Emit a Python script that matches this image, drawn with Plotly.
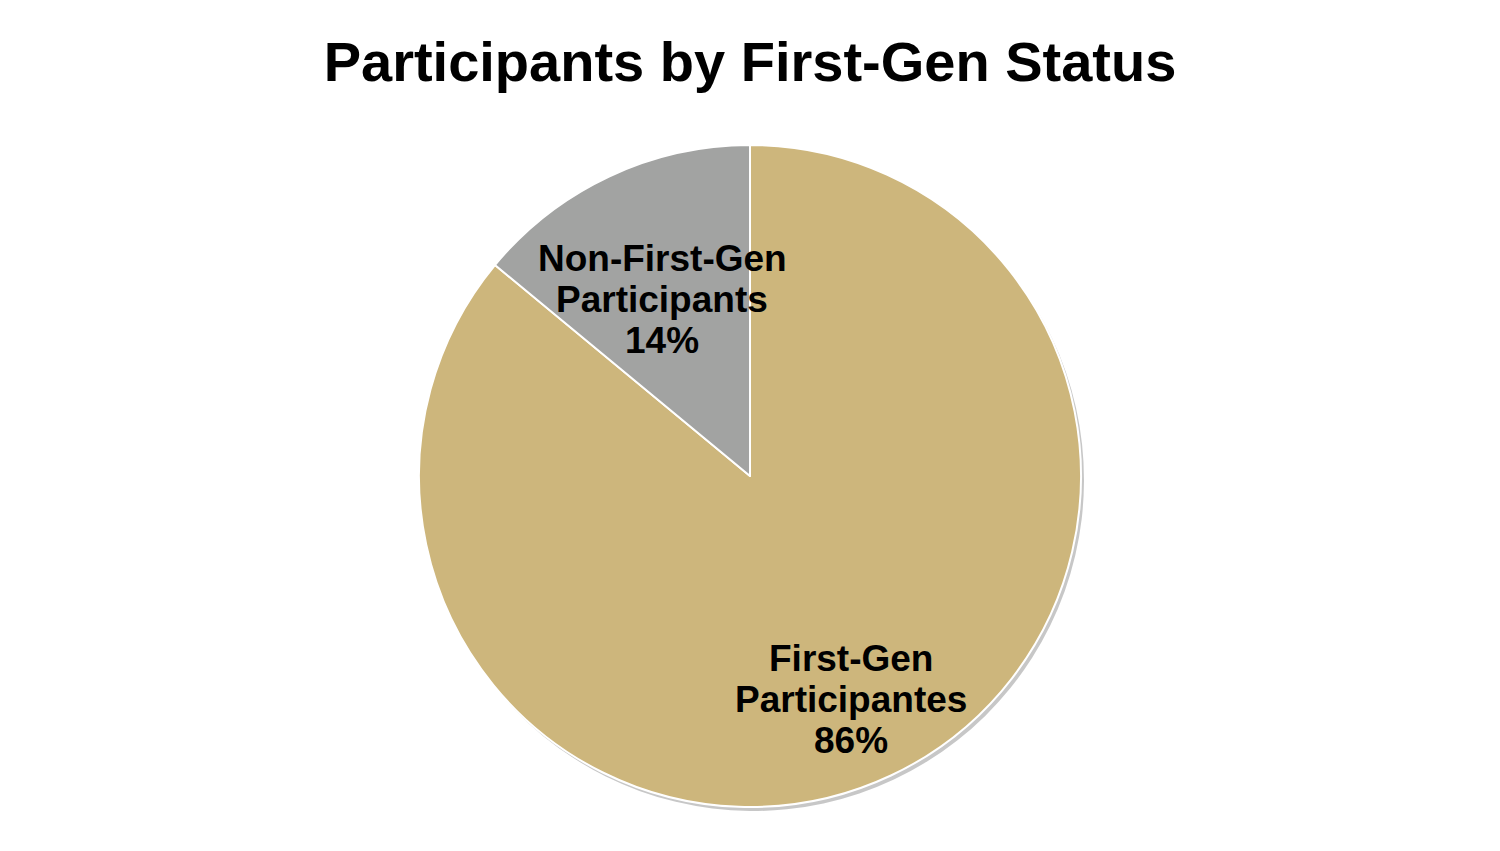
import plotly.graph_objects as go

# data
labels = ['First-Gen Participantes', 'Non-First-Gen Participants']
values = [86, 14]
label_lines = [['Non-First-Gen', 'Participants', '14%'],
               ['First-Gen', 'Participantes', '86%']]

#colours
gold = '#CDB67C'
grey = '#A2A3A2'
shadow = 'rgba(0,0,0,0.22)'

#plot area is 670 px tall (t=145, b=36)
area_h = 670.0

fig = go.Figure()
#soft drop shadow behind the pie
fig.add_trace(go.Pie(labels=labels, values=values, sort=False,
        direction='clockwise', rotation=0, textinfo='none', hoverinfo='skip',
        marker=dict(colors=[shadow, shadow], line=dict(width=0)),
        domain=dict(x=[6/1500, 1], y=[4/area_h, 1 - 4/area_h]),
        showlegend=False))
#main pie, gold goes clockwise from 12 o'clock so grey ends up on the left
fig.add_trace(go.Pie(labels=labels,
        values=values,
        sort=False,
        direction='clockwise',
        rotation=0,
        textinfo='none',
        hoverinfo='label+percent',
        marker=dict(colors=[gold, grey], line=dict(color='white', width=2)),
        domain=dict(x=[0, 1], y=[8/area_h, 1]),
        showlegend=False,
    ))

#slice labels, one annotation per line to keep the tight line spacing
label_centres = [(662, 299), (851, 699)]
for lines, (cx, cy) in zip(label_lines, label_centres):
    for i, line in enumerate(lines):
        ypix = cy + (i - 1) * 41
        fig.add_annotation(x=cx/1500, y=1 - (ypix - 145)/area_h, xref='paper', yref='paper',
                xanchor='center', yanchor='middle',
                text='<b>' + line + '</b>', showarrow=False,
                font=dict(size=37, color='black', family='Liberation Sans'))

fig.update_layout(width=1500, height=851,
        title=dict(text='<b>Participants by First-Gen Status</b>', x=0.5, xanchor='center',
                   y=1 - 61/851, yanchor='middle',
                   font=dict(size=56, color='black', family='Liberation Sans')),
        margin=dict(l=0, r=0, t=145, b=36),
        paper_bgcolor='white',
        plot_bgcolor='white',
        font=dict(family='Liberation Sans'),
    )

fig.write_html("out.html", config={'displayModeBar': False},
        post_script="document.body.style.margin='0';")
